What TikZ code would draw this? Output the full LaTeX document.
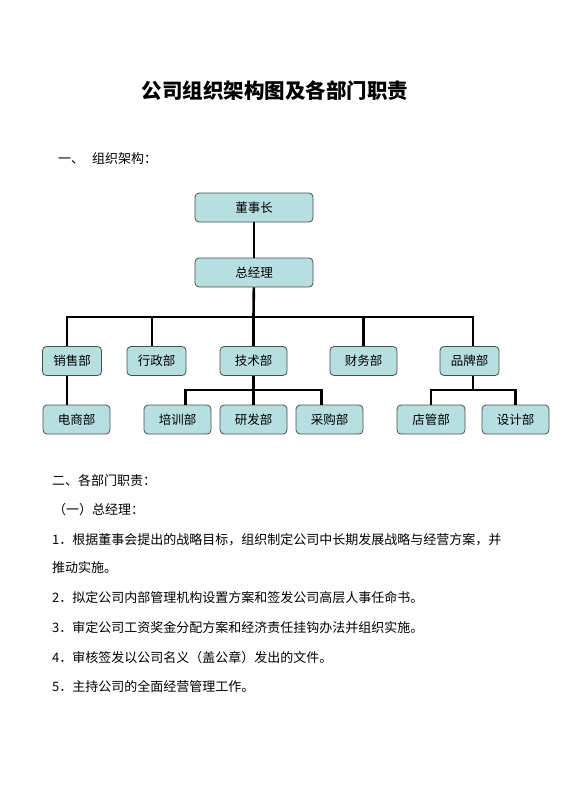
\documentclass[tikz,border=0pt]{standalone}
\usepackage{fontspec}
\setmainfont{Noto Sans CJK SC}
\definecolor{boxfill}{RGB}{183,223,224}
\definecolor{boxline}{RGB}{70,78,80}
\begin{document}
\begin{tikzpicture}[x=1pt,y=-1pt,
    box/.style={draw=boxline, fill=boxfill, rounded corners=4pt, line width=0.8pt,
      minimum height=29pt, inner sep=0pt, font=\fontsize{12.5}{14}\selectfont},
    link/.style={line width=2.6pt},
    txt/.style={anchor=base west, inner sep=0pt, font=\fontsize{13}{15}\selectfont}]
    \useasboundingbox (0,0) rectangle (560,792);

    % Title and heading
    \node[font=\fontsize{20.5}{24}\bfseries\selectfont] (title) at (275,91) {公司组织架构图及各部门职责};
    \node[txt] (sec1) at (58,163) {一、\hspace{8pt}组织架构：};

    % Define node positions
    \node[box, minimum width=118pt] (dsz) at (254,207.5) {董事长};
    \node[box, minimum width=118pt] (zjl) at (254,272.5) {总经理};

    \node[box, minimum width=59pt] (xs) at (72,361) {销售部};
    \node[box, minimum width=59pt] (xz) at (156.5,361) {行政部};
    \node[box, minimum width=67pt] (js) at (253.5,361) {技术部};
    \node[box, minimum width=67pt] (cw) at (363.5,361) {财务部};
    \node[box, minimum width=59pt] (pp) at (469.5,361) {品牌部};

    \node[box, minimum width=67pt] (ds) at (76.5,419.5) {电商部};
    \node[box, minimum width=67pt] (px) at (177.5,419.5) {培训部};
    \node[box, minimum width=67pt] (yf) at (253.5,419.5) {研发部};
    \node[box, minimum width=67pt] (cg) at (329.5,419.5) {采购部};
    \node[box, minimum width=68pt] (dg) at (431,419.5) {店管部};
    \node[box, minimum width=67pt] (sj) at (515.5,419.5) {设计部};

    % Draw connectors
    \coordinate (bus) at (253.5,317);
    \coordinate (bus2) at (253.5,390);
    \coordinate (bus3) at (473,390);
    \draw[link] (dsz) -- (zjl);
    \draw[link] (zjl) -- (bus);
    \draw[link] ([xshift=-5pt]xs.north) |- (bus) -| ([xshift=3.5pt]pp.north);
    \draw[link] ([xshift=-4.5pt]xz.north) -- ([xshift=-4.5pt]xz.north |- bus);
    \draw[link] (js.north) -- (bus);
    \draw[link] (cw.north) -- (cw.north |- bus);

    \draw[link] ([xshift=-5pt]xs.south) -- ([xshift=-5pt]xs.south |- ds.north);
    \draw[link] (js.south) -- (yf.north);
    \draw[link] ([xshift=8pt]px.north) |- (bus2) -| ([xshift=-8pt]cg.north);
    \draw[link] ([xshift=3.5pt]pp.south) -- (bus3);
    \draw[link] (dg.north) |- (bus3) -| (sj.north);

    % Duties text
    \node[txt] (sec2) at (52,485) {二、各部门职责：};
    \node[txt] (sub1) at (53,514) {（一）总经理：};
    \node[txt] (l1) at (52,544) {1．根据董事会提出的战略目标，组织制定公司中长期发展战略与经营方案，并};
    \node[txt] (l1b) at (52,572) {推动实施。};
    \node[txt] (l2) at (52,602) {2．拟定公司内部管理机构设置方案和签发公司高层人事任命书。};
    \node[txt] (l3) at (52,632) {3．审定公司工资奖金分配方案和经济责任挂钩办法并组织实施。};
    \node[txt] (l4) at (52,662) {4．审核签发以公司名义（盖公章）发出的文件。};
    \node[txt] (l5) at (52,691) {5．主持公司的全面经营管理工作。};
\end{tikzpicture}
\end{document}
